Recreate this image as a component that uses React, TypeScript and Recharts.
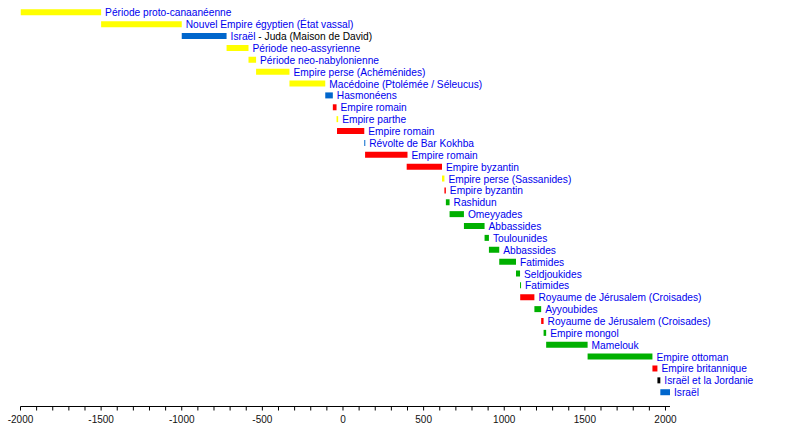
import { BarChart, Bar, XAxis, YAxis, Cell, LabelList } from 'recharts';

// Periods of rule over the region, top to bottom
const periods = [
  'Période proto-canaanéenne',
  'Nouvel Empire égyptien (État vassal)',
  'Israël - Juda (Maison de David)',
  'Période neo-assyrienne',
  'Période neo-nabylonienne',
  'Empire perse (Achéménides)',
  'Macédoine (Ptolémée / Séleucus)',
  'Hasmonéens',
  'Empire romain',
  'Empire parthe',
  'Empire romain',
  'Révolte de Bar Kokhba',
  'Empire romain',
  'Empire byzantin',
  'Empire perse (Sassanides)',
  'Empire byzantin',
  'Rashidun',
  'Omeyyades',
  'Abbassides',
  'Toulounides',
  'Abbassides',
  'Fatimides',
  'Seldjoukides',
  'Fatimides',
  'Royaume de Jérusalem (Croisades)',
  'Ayyoubides',
  'Royaume de Jérusalem (Croisades)',
  'Empire mongol',
  'Mamelouk',
  'Empire ottoman',
  'Empire britannique',
  'Israël et la Jordanie',
  'Israël',
];

const starts = [
  -2000, -1500, -1000, -722, -586, -539, -332, -110, -63, -40, -37, 132, 137, 395, 614, 629,
  638, 661, 750, 878, 905, 969, 1073, 1098, 1099, 1187, 1229, 1244, 1260, 1517, 1919, 1950, 1968,
];

const ends = [
  -1500, -1000, -722, -586, -539, -332, -110, -63, -40, -30, 132, 137, 400, 614, 629, 638,
  661, 750, 878, 905, 969, 1073, 1098, 1104, 1187, 1229, 1244, 1260, 1517, 1919, 1950, 1968, 2028,
];

// y = foreign empires, b = jewish states, r = roman / byzantine / crusader, g = muslim, k = partition
const kinds = [
  'y', 'y', 'b', 'y', 'y', 'y', 'y', 'b', 'r', 'y', 'r', 'b', 'r', 'r', 'y', 'r',
  'g', 'g', 'g', 'g', 'g', 'g', 'g', 'g', 'r', 'g', 'r', 'g', 'g', 'g', 'r', 'k', 'b',
];

const majorTicks = [-2000, -1500, -1000, -500, 0, 500, 1000, 1500, 2000];
const minorTicks = Array.from({ length: 41 }, (_, i) => -2000 + i * 100);

const kindColors: Record<string, string> = {
  y: '#ffff00',
  b: '#0066cc',
  r: '#ff0000',
  g: '#00b000',
  k: '#000000',
};

const data = periods.map((name, i) => ({
  id: String(i),
  name,
  range: [starts[i], ends[i]],
  kind: kinds[i],
}));

const FONT = '"Liberation Sans", Arial, Helvetica, sans-serif';
const TEXT_BLUE = '#0000ee';

const renderLabel = (props: any) => {
  const { x, y, width, height, index } = props;
  const name = periods[index];
  const tx = x + width + 4;
  const ty = y + height / 2 + 4;
  const parts = name.split(' - ');
  return (
    <text x={tx} y={ty} fontSize={10.2} fontFamily={FONT} fill={TEXT_BLUE}>
      {parts.length > 1 ? (
        <>
          <tspan>{parts[0]}</tspan>
          <tspan fill="#000">{' - ' + parts[1]}</tspan>
        </>
      ) : (
        name
      )}
    </text>
  );
};

const renderTick = (props: any) => {
  const { x, y, payload } = props;
  if (!majorTicks.includes(payload.value)) return <g />;
  return (
    <text x={x} y={y} dy={10} textAnchor="middle" fontSize={10} fontFamily={FONT} fill="#111">
      {payload.value}
    </text>
  );
};

export default function App() {
  return (
    <div style={{ position: 'absolute', left: 0, top: 0, background: '#fff' }}>
      <BarChart
        width={800}
        height={435}
        data={data}
        layout="vertical"
        margin={{ top: 9, right: 130, bottom: 0, left: 20.5 }}
      >
        <XAxis
          type="number"
          domain={[-2000, 2028]}
          ticks={minorTicks}
          interval={0}
          tick={renderTick}
          tickSize={4}
          tickLine={{ stroke: '#000' }}
          axisLine={{ stroke: '#000' }}
          height={28.5}
          allowDataOverflow
        />
        <YAxis
          type="category"
          dataKey="id"
          width={0}
          tick={false}
          tickLine={false}
          axisLine={{ stroke: '#000' }}
          padding={{ top: -2.7, bottom: 8.4 }}
        />
        <Bar dataKey="range" barSize={6} minPointSize={1} isAnimationActive={false}>
          {data.map((d) => (
            <Cell key={d.id} fill={kindColors[d.kind]} />
          ))}
          <LabelList dataKey="name" content={renderLabel} />
        </Bar>
      </BarChart>
    </div>
  );
}
